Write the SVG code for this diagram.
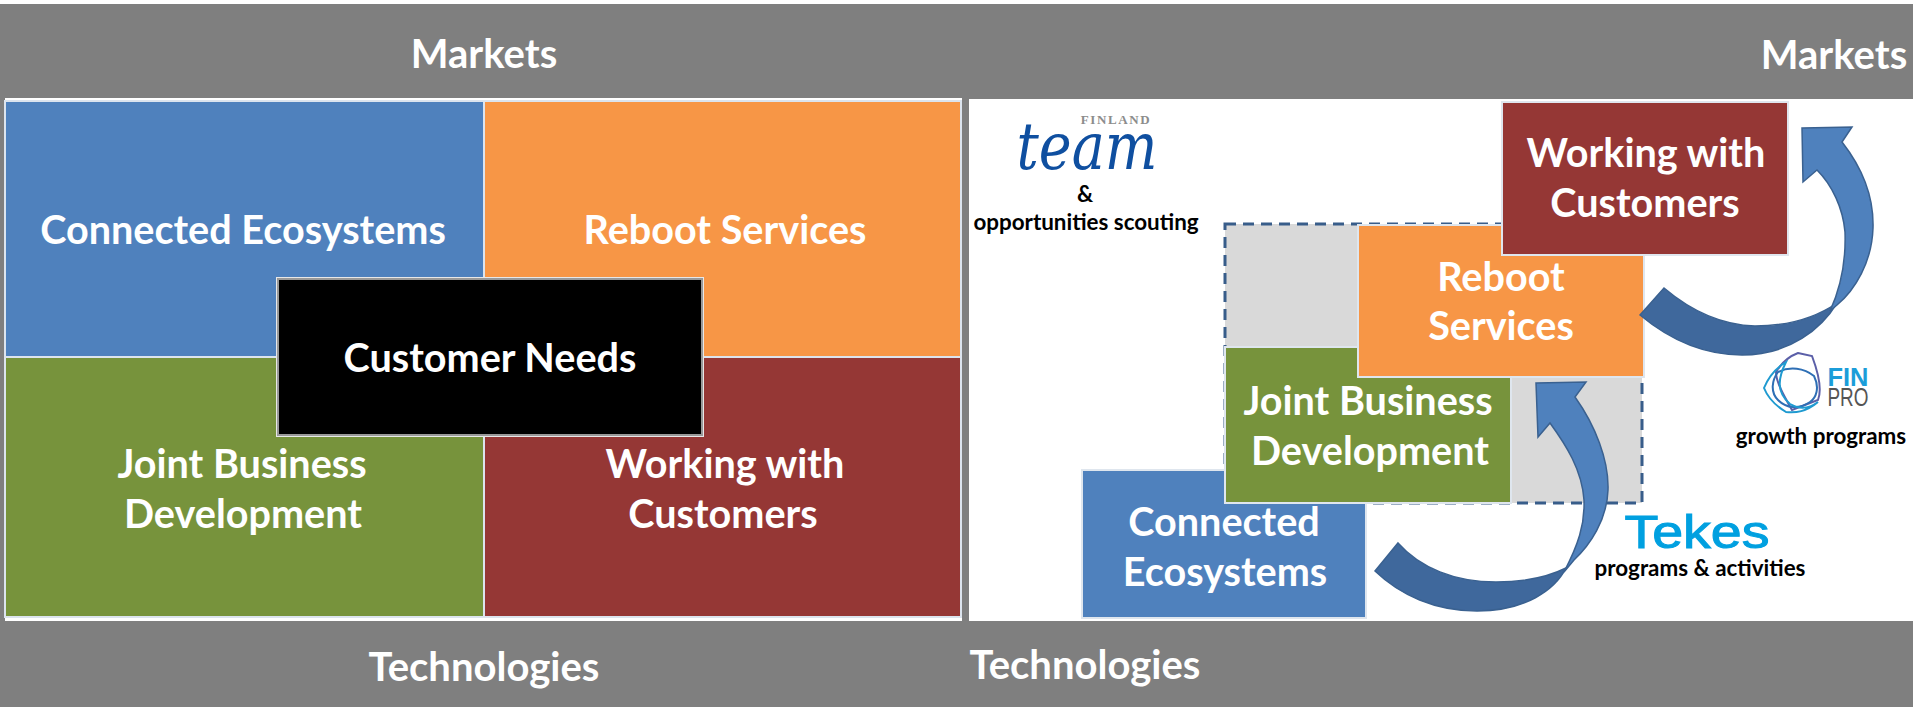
<svg xmlns="http://www.w3.org/2000/svg" width="1913" height="707" viewBox="0 0 1913 707">
<style>
text{font-family:"Lato","Liberation Sans",sans-serif;font-weight:700;text-anchor:middle}
.w{fill:#fff}
.t40{font-size:40px}
.t39{font-size:39.6px}
.k{fill:#000;font-size:22.4px}
.q{stroke:#dce4ee;stroke-width:2}
.box{stroke:#dfe6ee;stroke-width:2}
.arrow{stroke:#3a6190;stroke-width:1.5}
</style>
<rect width="1913" height="707" fill="#fff"/>
<rect id="band" x="0" y="4" width="1913" height="703" fill="#7f7f7f"/>
<rect id="panel-left" x="5" y="98" width="957" height="523" fill="#fff"/>
<rect id="panel-right" x="969" y="99" width="944" height="522" fill="#fff"/>
<g id="quad-connected"><rect class="q" x="5" y="101" width="479" height="256" fill="#4f81bd"/><text class="w t39" x="243" y="244">Connected Ecosystems</text></g>
<g id="quad-reboot"><rect class="q" x="484" y="101" width="477" height="256" fill="#f79646"/><text class="w t39" x="725" y="244">Reboot Services</text></g>
<g id="quad-joint"><rect class="q" x="5" y="357" width="479" height="260" fill="#77933c"/><text class="w t39" x="242" y="478">Joint Business</text><text class="w t39" x="243" y="528">Development</text></g>
<g id="quad-working"><rect class="q" x="484" y="357" width="477" height="260" fill="#953735"/><text class="w t39" x="725" y="478">Working with</text><text class="w t39" x="723" y="528">Customers</text></g>
<g id="customer-needs"><rect x="276" y="277" width="428" height="160" fill="#e8e8e8"/><rect x="278" y="279" width="424" height="156" fill="#000" stroke="#999" stroke-width="2"/><text class="w t39" x="490" y="372">Customer Needs</text></g>
<text class="w t40" x="484" y="68">Markets</text>
<text class="w t40" x="1834" y="69">Markets</text>
<text class="w t40" x="484" y="681">Technologies</text>
<text class="w t40" x="1085" y="679">Technologies</text>
<rect id="dashed-zone" x="1225" y="224" width="417" height="279" fill="#d9d9d9" stroke="#385d8a" stroke-width="3" stroke-dasharray="11 7"/>
<g id="node-connected"><rect class="box" x="1082" y="470" width="284" height="148" fill="#4f81bd"/><text class="w t39" x="1224" y="536">Connected</text><text class="w t39" x="1225" y="586">Ecosystems</text></g>
<g id="node-joint"><rect class="box" x="1225" y="347" width="286" height="156" fill="#77933c"/><text class="w t39" x="1368" y="415">Joint Business</text><text class="w t39" x="1370" y="465">Development</text></g>
<g id="node-reboot"><rect class="box" x="1358" y="225" width="286" height="152" fill="#f79646"/><text class="w t39" x="1501" y="291">Reboot</text><text class="w t39" x="1501" y="340">Services</text></g>
<g id="node-working"><rect class="box" x="1502" y="102" width="286" height="153" fill="#953735"/><text class="w t39" x="1646" y="167">Working with</text><text class="w t39" x="1645" y="217">Customers</text></g>
<g id="connectors">
<path class="arrow" fill="#3f689c" d="M1640 315L1664 288C1690 310 1720 325 1755 326C1790 326 1815 318 1837 303C1822 328 1790 355 1742 355C1705 355 1670 340 1640 315Z"/>
<path class="arrow" fill="#4f81bd" d="M1802 128L1852 127L1842 142C1860 165 1874 195 1873 228C1872 262 1855 290 1837 305L1830 311C1842 285 1846 260 1845 232C1843 208 1832 185 1817 170L1803 182Z"/>
<path class="arrow" fill="#3f689c" d="M1375 571L1398 543C1420 568 1455 582 1496 582C1525 582 1548 577 1566 568C1555 590 1525 611 1477 611C1435 611 1400 595 1375 571Z"/>
<path class="arrow" fill="#4f81bd" d="M1536 383L1586 382L1575 397C1595 425 1609 460 1608 490C1607 520 1590 545 1574 560L1564 572C1578 545 1585 525 1584 500C1582 470 1566 445 1550 423L1538 437Z"/>
</g>
<g id="logo-team"><text x="1087" y="169" textLength="141" lengthAdjust="spacingAndGlyphs" style="font-family:'DejaVu Serif',serif;font-style:italic;font-weight:400;font-size:66px" fill="#0f4fa0">team</text><text x="1116" y="124" style="font-family:'Liberation Serif',serif;font-size:13px;letter-spacing:1.6px" fill="#8c8c8c">FINLAND</text></g>
<text class="k" x="1085" y="202">&amp;</text>
<text class="k" x="1086" y="230">opportunities scouting</text>
<g id="logo-finpro" fill="none" stroke-width="2">
<path stroke="#5b5fa8" d="M1798 353L1812 356C1818 372 1822 390 1818 400L1792 410C1784 396 1776 382 1776 372C1782 362 1790 356 1798 353Z"/>
<path stroke="#2e6fb5" d="M1778 372C1790 366 1804 368 1814 376C1820 388 1816 398 1810 402C1798 410 1786 408 1778 400C1770 392 1772 380 1778 372Z"/>
<path stroke="#1f9ad0" d="M1764 388C1768 378 1776 368 1786 362C1778 378 1776 392 1790 404C1800 410 1810 408 1818 402C1806 412 1796 413 1786 412C1776 406 1768 398 1764 388Z"/>
<text x="1848" y="386" textLength="41" lengthAdjust="spacingAndGlyphs" style="font-family:'Liberation Sans',sans-serif;font-size:25px;font-weight:700;stroke:none" fill="#1b9dd9">FIN</text>
<text x="1848" y="406" textLength="41" lengthAdjust="spacingAndGlyphs" style="font-family:'Liberation Sans',sans-serif;font-size:25px;font-weight:400;stroke:none" fill="#555">PRO</text>
</g>
<text class="k" x="1821" y="444">growth programs</text>
<text id="logo-tekes" x="1697" y="548" textLength="145" lengthAdjust="spacingAndGlyphs" style="font-family:'Liberation Sans',sans-serif;font-size:46px;font-weight:400;stroke:#00a0e0;stroke-width:1" fill="#00a0e0">Tekes</text>
<text class="k" x="1700" y="576">programs &amp; activities</text>
</svg>
